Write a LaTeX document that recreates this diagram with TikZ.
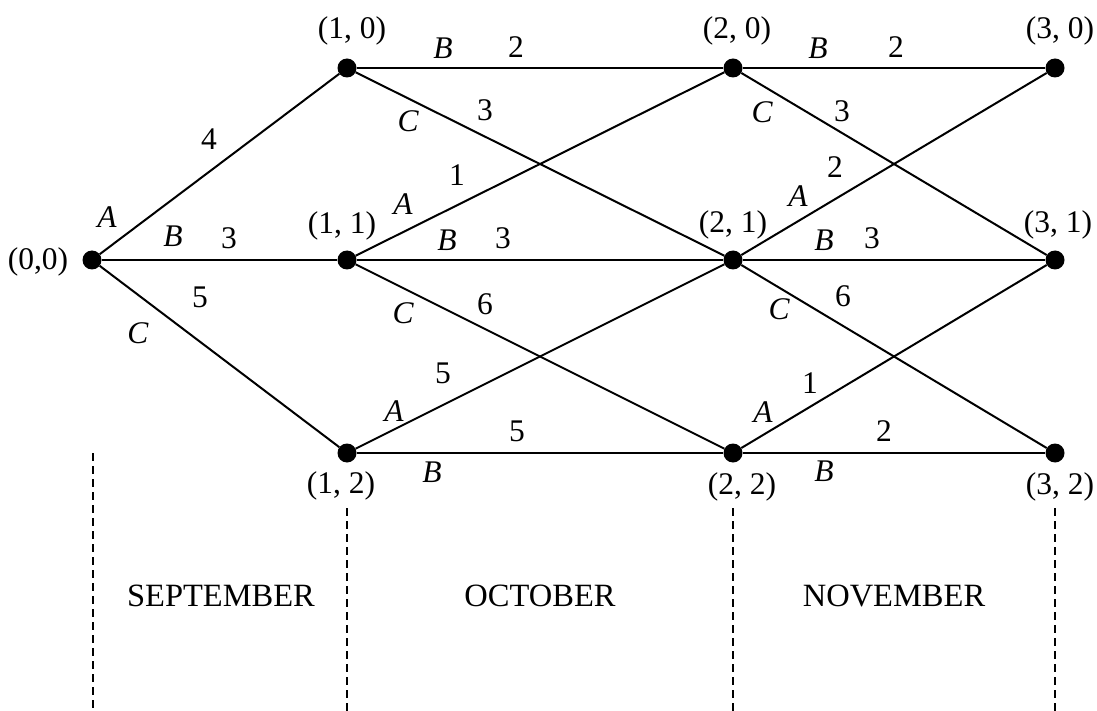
\documentclass[tikz,border=0pt]{standalone}
\usepackage{fontspec}
\setmainfont{Liberation Serif}
\begin{document}
\begin{tikzpicture}[x=1pt,y=-1pt,
  dot/.style={circle,fill=black,inner sep=0pt,minimum size=19pt},
  edge/.style={line width=2pt},
  sep/.style={line width=1.1pt,dash pattern=on 8pt off 5pt},
  txt/.style={inner sep=0pt,font=\fontsize{31.5}{36}\selectfont},
  itl/.style={inner sep=0pt,font=\fontsize{31.5}{36}\selectfont\itshape},
  month/.style={inner sep=0pt,font=\fontsize{32.5}{37}\selectfont}]
\useasboundingbox (0,0) rectangle (1097,711);
% nodes
\node[dot] (n00) at (92,260) {};
\node[dot] (n10) at (347,68) {};
\node[dot] (n11) at (347,260) {};
\node[dot] (n12) at (347,453) {};
\node[dot] (n20) at (733,68) {};
\node[dot] (n21) at (733,260) {};
\node[dot] (n22) at (733,453) {};
\node[dot] (n30) at (1055,68) {};
\node[dot] (n31) at (1055,260) {};
\node[dot] (n32) at (1055,453) {};
% edges
\draw[edge] (n00) -- (n10);
\draw[edge] (n00) -- (n11);
\draw[edge] (n00) -- (n12);
\draw[edge] (n10) -- (n20);
\draw[edge] (n10) -- (n21);
\draw[edge] (n11) -- (n20);
\draw[edge] (n11) -- (n21);
\draw[edge] (n11) -- (n22);
\draw[edge] (n12) -- (n21);
\draw[edge] (n12) -- (n22);
\draw[edge] (n20) -- (n30);
\draw[edge] (n20) -- (n31);
\draw[edge] (n21) -- (n30);
\draw[edge] (n21) -- (n31);
\draw[edge] (n21) -- (n32);
\draw[edge] (n22) -- (n31);
\draw[edge] (n22) -- (n32);
% node labels
\node[txt] (l00) at (38,262) {(0,0)};
\node[txt] (l10) at (352,31) {(1, 0)};
\node[txt] (l20) at (737,31) {(2, 0)};
\node[txt] (l30) at (1060,31) {(3, 0)};
\node[txt] (l11) at (342,226) {(1, 1)};
\node[txt] (l21) at (733,225) {(2, 1)};
\node[txt] (l31) at (1058,225) {(3, 1)};
\node[txt] (l12) at (341,486) {(1, 2)};
\node[txt] (l22) at (742,487) {(2, 2)};
\node[txt] (l32) at (1060,487) {(3, 2)};
% edge labels, first stage
\node[txt] (w1) at (209,139) {4};
\node[itl] (a1) at (107,217) {A};
\node[itl] (b1) at (173,236) {B};
\node[txt] (w2) at (229,238) {3};
\node[txt] (w3) at (200,297) {5};
\node[itl] (c1) at (138,333) {C};
% second stage
\node[itl] (b2) at (443,48) {B};
\node[txt] (w4) at (516,47) {2};
\node[itl] (c2) at (408,121) {C};
\node[txt] (w5) at (485,110) {3};
\node[txt] (w6) at (457,175) {1};
\node[itl] (a2) at (403,204) {A};
\node[itl] (b3) at (447,240) {B};
\node[txt] (w7) at (503,238) {3};
\node[itl] (c3) at (403,313) {C};
\node[txt] (w8) at (485,304) {6};
\node[txt] (w9) at (443,373) {5};
\node[itl] (a3) at (394,411) {A};
\node[txt] (w10) at (517,431) {5};
\node[itl] (b4) at (432,472) {B};
% third stage
\node[itl] (b5) at (818,48) {B};
\node[txt] (w11) at (896,47) {2};
\node[itl] (c4) at (762,112) {C};
\node[txt] (w12) at (842,111) {3};
\node[txt] (w13) at (835,167) {2};
\node[itl] (a4) at (798,196) {A};
\node[itl] (b6) at (824,240) {B};
\node[txt] (w14) at (872,238) {3};
\node[itl] (c5) at (779,309) {C};
\node[txt] (w15) at (843,296) {6};
\node[txt] (w16) at (810,383) {1};
\node[itl] (a5) at (763,412) {A};
\node[txt] (w17) at (884,431) {2};
\node[itl] (b7) at (824,471) {B};
% separators
\coordinate (s0t) at (93,453);
\coordinate (s0b) at (93,711);
\coordinate (s1t) at (347,508);
\coordinate (s1b) at (347,711);
\coordinate (s2t) at (733,508);
\coordinate (s2b) at (733,711);
\coordinate (s3t) at (1055,508);
\coordinate (s3b) at (1055,711);
\draw[sep] (s0t) -- (s0b);
\draw[sep] (s1t) -- (s1b);
\draw[sep] (s2t) -- (s2b);
\draw[sep] (s3t) -- (s3b);
% months
\node[month] (m1) at (221,596) {SEPTEMBER};
\node[month] (m2) at (540,596) {OCTOBER};
\node[month] (m3) at (894,596) {NOVEMBER};
\end{tikzpicture}
\end{document}
